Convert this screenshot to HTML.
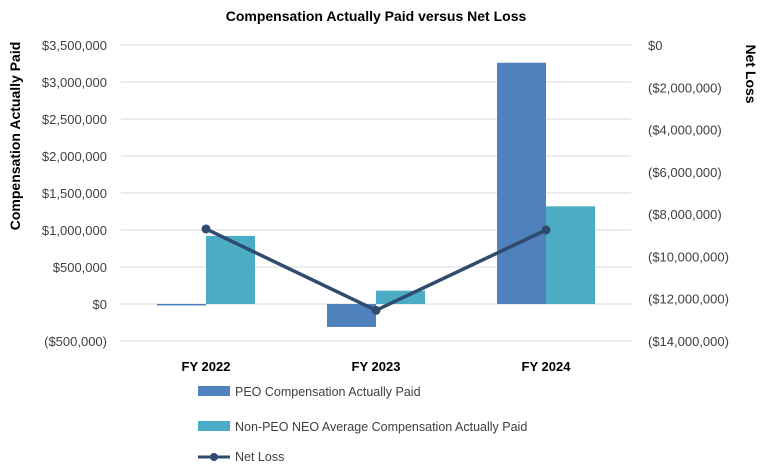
<!DOCTYPE html>
<html><head><meta charset="utf-8"><style>
body{margin:0;background:#fff;font-family:"Liberation Sans",Calibri,sans-serif}
svg text{font-family:"Liberation Sans",sans-serif}
</style></head><body>
<svg id="chart" width="771" height="470" xmlns="http://www.w3.org/2000/svg">
<text x="376" y="21" text-anchor="middle" font-size="14" font-weight="bold" fill="#000">Compensation Actually Paid versus Net Loss</text>
<text transform="translate(20,136) rotate(-90)" text-anchor="middle" font-size="14" font-weight="bold">Compensation Actually Paid</text>
<text transform="translate(746,74) rotate(90)" text-anchor="middle" font-size="14" font-weight="bold">Net Loss</text>
<g id="grid"></g><g id="bars"></g><g id="line"></g><g id="labels"></g>
<g>
<rect x="198" y="386" width="32" height="10" fill="#4f81bd"/>
<text x="235" y="396" font-size="12.5" fill="#404040">PEO Compensation Actually Paid</text>
<rect x="198" y="421" width="32" height="10" fill="#4bacc6"/>
<text x="235" y="431" font-size="12.5" fill="#404040">Non-PEO NEO Average Compensation Actually Paid</text>
<line x1="198" y1="457" x2="230" y2="457" stroke="#2f4b6e" stroke-width="3"/>
<circle cx="214" cy="457" r="4" fill="#2f4b6e"/>
<text x="235" y="461" font-size="12.5" fill="#404040">Net Loss</text>
</g>
</svg>
<script>
const categories=["FY 2022","FY 2023","FY 2024"];
const peoValues=[-20000,-310000,3260000];
const nonPeoValues=[920000,180000,1320000];
const netLoss=[-8700000,-12550000,-8750000];
const leftTicks=[-500000,0,500000,1000000,1500000,2000000,2500000,3000000,3500000];
const rightTicks=[0,-2000000,-4000000,-6000000,-8000000,-10000000,-12000000,-14000000];
const NS="http://www.w3.org/2000/svg";
const plotTop=45,plotBot=341,x0=121,catW=170,barW=49;
const yL=v=>plotTop+(3500000-v)/4000000*(plotBot-plotTop);
const yR=v=>plotTop+(0-v)/14000000*(plotBot-plotTop);
const xC=i=>x0+catW*(i+0.5);
function mk(t,a,p){const e=document.createElementNS(NS,t);for(const k in a)e.setAttribute(k,a[k]);p.appendChild(e);return e;}
const fmt=v=>{const s="$"+Math.abs(v).toLocaleString("en-US");return v<0?"("+s+")":s;};
const g=document.getElementById("grid"),L=document.getElementById("labels");
leftTicks.forEach(v=>{const y=yL(v);
 const l=mk("line",{x1:x0,x2:x0+catW*3,y1:y,y2:y,stroke:"#d9d9d9","stroke-width":1},g);
 
 
 const t=mk("text",{x:107,y:y+5,"text-anchor":"end","font-size":"13",fill:"#404040"},L);t.textContent=fmt(v);
 
 
});
rightTicks.forEach(v=>{const t=mk("text",{x:648,y:yR(v)+5,"font-size":"13",fill:"#404040"},L);t.textContent=fmt(v);
 
 
});
categories.forEach((c,i)=>{const t=mk("text",{x:xC(i),y:371,"text-anchor":"middle","font-size":"13","font-weight":"bold",fill:"#000"},L);t.textContent=c;
 
 
});
const B=document.getElementById("bars");
categories.forEach((c,i)=>{
 [[peoValues[i],"#4f81bd",-barW,"bar-peo"],[nonPeoValues[i],"#4bacc6",0,"bar-non-peo"]].forEach(([v,col,off,nm])=>{
  const y1=yL(v),y0=yL(0);
  const r=mk("rect",{x:xC(i)+off,y:Math.min(y1,y0),width:barW,height:Math.max(1,Math.abs(y1-y0)),fill:col},B);
  
  
 });
});
const Ln=document.getElementById("line");
const pl=mk("polyline",{points:netLoss.map((v,i)=>xC(i)+","+yR(v)).join(" "),fill:"none",stroke:"#2f4b6e","stroke-width":3.5},Ln);


netLoss.forEach((v,i)=>{const c=mk("circle",{cx:xC(i),cy:yR(v),r:4.5,fill:"#2f4b6e"},Ln);
 
 
});
</script>
</body></html>
